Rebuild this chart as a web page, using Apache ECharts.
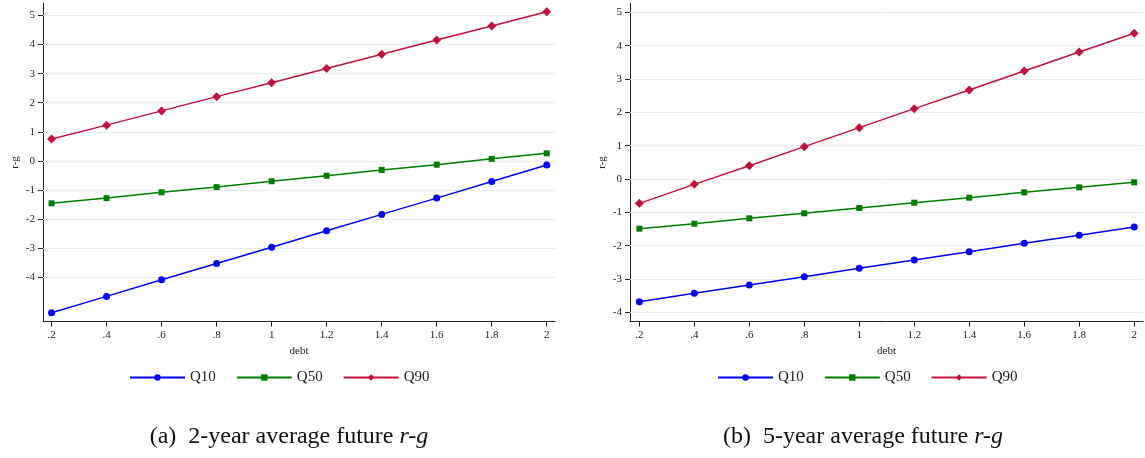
<!DOCTYPE html>
<html>
<head>
<meta charset="utf-8">
<script src="https://cdn.jsdelivr.net/npm/echarts@6/dist/echarts.min.js"></script>
<style>
html,body{margin:0;padding:0;background:#fff;}
#chart{width:1145px;height:458px;}
</style>
</head>
<body>
<div id="chart"></div>
<script>
// ---- data ----
var debt = [0.2, 0.4, 0.6, 0.8, 1.0, 1.2, 1.4, 1.6, 1.8, 2.0];
var aQ10 = [-5.22, -4.66, -4.09, -3.53, -2.97, -2.40, -1.84, -1.28, -0.71, -0.14];
var aQ50 = [-1.46, -1.28, -1.08, -0.90, -0.70, -0.51, -0.31, -0.13, 0.07, 0.26];
var aQ90 = [0.75, 1.23, 1.72, 2.21, 2.69, 3.18, 3.67, 4.16, 4.64, 5.13];
var bQ10 = [-3.68, -3.43, -3.18, -2.93, -2.68, -2.43, -2.18, -1.93, -1.69, -1.44];
var bQ50 = [-1.49, -1.34, -1.18, -1.03, -0.87, -0.71, -0.56, -0.40, -0.25, -0.10];
var bQ90 = [-0.73, -0.16, 0.40, 0.97, 1.54, 2.11, 2.67, 3.24, 3.81, 4.37];
var xTicks = [0.2, 0.4, 0.6, 0.8, 1.0, 1.2, 1.4, 1.6, 1.8, 2.0];
var yTicks = [-4, -3, -2, -1, 0, 1, 2, 3, 4, 5];
var seriesNames = ['Q10', 'Q50', 'Q90'];
var captions = ['(a)  2-year average future ', '(b)  5-year average future '];

// ---- styling ----
var colors = ['#0000ff', '#007d00', '#c4103c'];
var symbols = ['circle', 'rect', 'diamond'];
var symSizes = [7, 6, 9];
var FONT = 'Liberation Serif';
var axisColor = '#222';

function pairs(vals) { return debt.map(function (d, i) { return [d, vals[i]]; }); }
function fmtX(v) {
  var s = String(Number(Number(v).toFixed(1)));
  return s.indexOf('0.') === 0 ? s.slice(1) : s;
}

function xAxis(gi, min, max) {
  return {
    type: 'value', gridIndex: gi, min: min, max: max,
    name: 'debt', nameLocation: 'middle', nameGap: 22,
    nameTextStyle: { fontFamily: FONT, fontSize: 11, color: axisColor },
    axisLine: { show: true, onZero: false, lineStyle: { color: axisColor, width: 1 } },
    axisTick: { show: true, length: 5, customValues: xTicks, lineStyle: { color: axisColor } },
    axisLabel: { customValues: xTicks, margin: 8, fontFamily: FONT, fontSize: 11, color: axisColor, formatter: fmtX },
    splitLine: { show: false }
  };
}
function yAxis(gi, min, max) {
  return {
    type: 'value', gridIndex: gi, min: min, max: max,
    name: 'r-g', nameLocation: 'middle', nameGap: 22,
    nameTextStyle: { fontFamily: FONT, fontSize: 11, color: axisColor },
    axisLine: { show: true, onZero: false, lineStyle: { color: axisColor, width: 1 } },
    axisTick: { show: true, length: 5, customValues: yTicks, lineStyle: { color: axisColor } },
    axisLabel: { customValues: yTicks, margin: 8, fontFamily: FONT, fontSize: 11, color: axisColor },
    splitLine: { show: false }
  };
}

var panels = [[aQ10, aQ50, aQ90], [bQ10, bQ50, bQ90]];
var series = [];
panels.forEach(function (p, gi) {
  series.push({
    type: 'line', xAxisIndex: gi, yAxisIndex: gi, data: [], silent: true, z: 1,
    markLine: {
      z: 1, silent: true, symbol: ['none', 'none'], label: { show: false },
      lineStyle: { color: '#e4ecee', width: 1, type: 'solid' },
      emphasis: { disabled: true },
      data: yTicks.map(function (t) { return { yAxis: t }; })
    }
  });
  p.forEach(function (vals, si) {
    series.push({
      name: seriesNames[si], type: 'line', xAxisIndex: gi, yAxisIndex: gi, z: 3,
      data: pairs(vals), symbol: symbols[si], symbolSize: symSizes[si],
      showSymbol: true,
      lineStyle: { color: colors[si], width: 1.5 },
      itemStyle: { color: colors[si] },
      emphasis: { disabled: true }
    });
  });
});

function legend(left) {
  return {
    data: seriesNames, left: left, top: 365, orient: 'horizontal',
    itemWidth: 55, itemHeight: 8, itemGap: 20,
    textStyle: { fontFamily: FONT, fontSize: 15, color: '#222' },
    selectedMode: false
  };
}

function caption(x, text) {
  return {
    type: 'text', x: x, y: 437,
    style: {
      text: text + '{i|r-g}', textAlign: 'center', textVerticalAlign: 'middle',
      fontFamily: FONT, fontSize: 24, fill: '#111',
      rich: { i: { fontFamily: FONT, fontSize: 24, fontStyle: 'italic', fill: '#111' } }
    }
  };
}

var chart = echarts.init(document.getElementById('chart'), null, { renderer: 'canvas' });
chart.setOption({
  animation: false,
  backgroundColor: '#fff',
  color: colors,
  grid: [
    { left: 43, top: 3.3, width: 512, height: 318.4 },
    { left: 630, top: 3.3, width: 513, height: 318.4 }
  ],
  xAxis: [xAxis(0, 0.169, 2.03), xAxis(1, 0.166, 2.032)],
  yAxis: [yAxis(0, -5.53, 5.42), yAxis(1, -4.28, 5.27)],
  legend: [legend(124), legend(712)],
  series: series,
  graphic: [caption(289, captions[0]), caption(863, captions[1])]
});
</script>
</body>
</html>
